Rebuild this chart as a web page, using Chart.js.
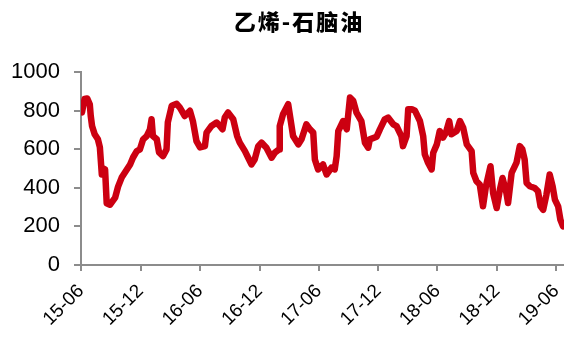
<!DOCTYPE html>
<html>
<head>
<meta charset="utf-8">
<script src="https://cdn.jsdelivr.net/npm/chart.js@4.4.1/dist/chart.umd.min.js"></script>
<style>
  html, body { margin: 0; padding: 0; background: #ffffff; }
  #wrap { width: 564px; height: 338px; position: relative; }
</style>
</head>
<body>
<div id="wrap"><canvas id="c" width="564" height="338"></canvas></div>
<script>
// Ethylene minus naphtha price spread, sampled dates and values
const dates = [
  '2015-06-04','2015-06-12','2015-06-20','2015-06-28','2015-07-01','2015-07-05','2015-07-13','2015-07-23','2015-07-29',
  '2015-08-04','2015-08-08','2015-08-14','2015-08-19','2015-08-29','2015-09-14','2015-09-23','2015-10-04','2015-10-14',
  '2015-10-30','2015-11-08','2015-11-19','2015-11-29','2015-12-09','2015-12-20','2015-12-30','2016-01-04','2016-01-08',
  '2016-01-20','2016-01-27','2016-02-08','2016-02-19','2016-02-23','2016-03-06','2016-03-21','2016-03-31','2016-04-15',
  '2016-05-01','2016-05-10','2016-05-21','2016-06-01','2016-06-16','2016-06-21','2016-07-06','2016-07-22','2016-08-01',
  '2016-08-09','2016-08-16','2016-08-26','2016-09-11','2016-09-23','2016-10-01','2016-10-17','2016-10-27','2016-11-06',
  '2016-11-16','2016-11-27','2016-12-07','2016-12-22','2017-01-07','2017-01-17','2017-01-30','2017-02-01','2017-02-11',
  '2017-02-27','2017-03-07','2017-03-14','2017-03-30','2017-04-09','2017-04-24','2017-05-05','2017-05-15','2017-05-20',
  '2017-05-30','2017-06-14','2017-06-25','2017-07-10','2017-07-20','2017-07-26','2017-07-31','2017-08-15','2017-08-26',
  '2017-09-05','2017-09-15','2017-09-25','2017-10-10','2017-10-21','2017-10-31','2017-11-05','2017-11-26','2017-12-06',
  '2017-12-21','2017-12-31','2018-01-16','2018-01-26','2018-02-10','2018-02-15','2018-02-26','2018-03-03','2018-03-14',
  '2018-03-24','2018-04-08','2018-04-18','2018-04-23','2018-05-03','2018-05-14','2018-05-19','2018-05-30','2018-06-08',
  '2018-06-18','2018-06-27','2018-07-07','2018-07-14','2018-07-30','2018-08-09','2018-08-19','2018-08-30','2018-09-14',
  '2018-09-19','2018-09-29','2018-10-09','2018-10-19','2018-10-28','2018-11-11','2018-11-19','2018-11-30','2018-12-10',
  '2018-12-18','2018-12-30','2019-01-04','2019-01-15','2019-01-30','2019-02-09','2019-02-17','2019-02-24','2019-03-02',
  '2019-03-12','2019-03-27','2019-04-06','2019-04-14','2019-04-22','2019-05-02','2019-05-12','2019-05-21','2019-05-28',
  '2019-06-07','2019-06-14','2019-06-22'
];
const spread = [
  791,860,863,833,772,720,677,651,610,
  469,500,495,320,312,349,406,453,479,
  521,557,589,599,651,668,703,755,668,
  651,583,564,599,740,825,835,815,772,
  799,746,642,609,616,686,720,738,720,
  703,764,790,755,668,634,590,556,521,
  547,616,634,608,556,582,599,720,781,
  833,746,668,625,651,729,703,686,547,
  495,521,469,504,495,564,694,746,703,
  868,851,790,746,634,608,651,665,703,
  755,764,729,720,668,616,668,807,807,
  799,746,668,573,530,495,582,625,694,
  660,686,746,677,694,746,712,625,590,
  477,434,417,304,408,512,373,295,391,
  451,373,321,477,530,616,599,547,425,
  408,399,382,304,286,365,469,408,339,
  304,234,200
];
// Axis tick positions and their labels
const tickDates = ['2015-06-01','2015-12-01','2016-06-01','2016-12-01','2017-06-01','2017-12-01','2018-06-01','2018-12-01','2019-06-01'];
const tickLabels = ['15-06','15-12','16-06','16-12','17-06','17-12','18-06','18-12','19-06'];
const yTicks = [0, 200, 400, 600, 800, 1000];
const titleText = '乙烯-石脑油';

const ORIGIN = Date.UTC(2015, 5, 1);
function dayIndex(s) {
  const [y, m, d] = s.split('-').map(Number);
  return Math.round((Date.UTC(y, m - 1, d) - ORIGIN) / 86400000);
}
const tickDays = tickDates.map(dayIndex);
const labelByDay = {};
tickDays.forEach((d, i) => { labelByDay[d] = tickLabels[i]; });

const points = dates.map((d, i) => ({ x: dayIndex(d), y: spread[i] }));

const AXIS = '#8c8c8c';

// Heading drawn above the plot, slightly right of the canvas centre
const headingPlugin = {
  id: 'heading',
  afterDraw(chart) {
    const ctx = chart.ctx;
    ctx.save();
    ctx.fillStyle = '#000000';
    ctx.font = '900 22px "Noto Sans CJK SC", sans-serif';
    ctx.textAlign = 'center';
    ctx.textBaseline = 'middle';
    if ('letterSpacing' in ctx) ctx.letterSpacing = '2px';
    ctx.fillText(titleText, 299, 22);
    ctx.restore();
  }
};

new Chart(document.getElementById('c'), {
  type: 'line',
  data: {
    datasets: [{
      label: titleText,
      data: points,
      borderColor: '#cc0011',
      borderWidth: 6.5,
      borderJoinStyle: 'round',
      borderCapStyle: 'round',
      pointRadius: 0,
      tension: 0,
      fill: false
    }]
  },
  options: {
    responsive: false,
    animation: false,
    devicePixelRatio: 1,
    layout: { padding: { left: 0, right: 0, top: 72, bottom: 0 } },
    plugins: {
      legend: { display: false },
      tooltip: { enabled: false },
      title: { display: false }
    },
    scales: {
      x: {
        type: 'linear',
        min: 0,
        max: 1485,
        afterBuildTicks: (scale) => { scale.ticks = tickDays.map(v => ({ value: v })); },
        afterFit: (scale) => { scale.height = 73; scale.paddingLeft = 0; scale.paddingRight = 0; },
        border: { display: true, color: AXIS, width: 2 },
        grid: { drawOnChartArea: false, drawTicks: true, tickLength: 6, color: AXIS, lineWidth: 2 },
        ticks: {
          autoSkip: false,
          maxRotation: 45,
          minRotation: 45,
          padding: 9,
          color: '#000000',
          font: { family: '"Liberation Sans", Arial, sans-serif', size: 19 },
          callback: (v) => labelByDay[v] !== undefined ? labelByDay[v] : ''
        }
      },
      y: {
        min: 0,
        max: 1000,
        afterBuildTicks: (scale) => { scale.ticks = yTicks.map(v => ({ value: v })); },
        afterFit: (scale) => { scale.width = 81; },
        border: { display: true, color: AXIS, width: 2 },
        grid: { drawOnChartArea: false, drawTicks: true, tickLength: 7, color: AXIS, lineWidth: 2 },
        ticks: {
          padding: 14,
          color: '#000000',
          font: { family: '"Liberation Sans", Arial, sans-serif', size: 22 },
          callback: (v) => String(v)
        }
      }
    }
  },
  plugins: [headingPlugin]
});
</script>
</body>
</html>
